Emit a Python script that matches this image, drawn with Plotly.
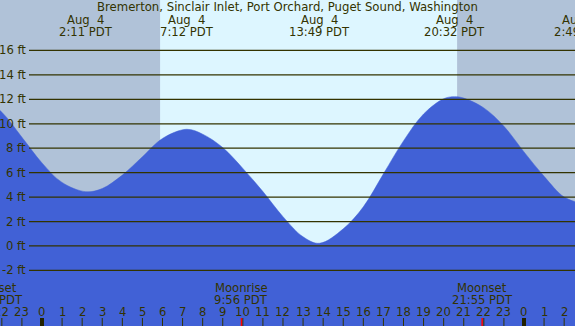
import plotly.graph_objects as go

# ---------------- data ----------------
TITLE = "Bremerton, Sinclair Inlet, Port Orchard, Puget Sound, Washington"

# hourly tide heights (ft), hours from midnight Aug 4 (PDT)
HOURS = [-3, -2, -1, 0, 1, 3, 4, 5, 6, 8, 9, 10, 11, 12, 13,
         15, 16, 17, 18, 19, 20, 21, 22, 23, 24, 25, 26]
HEIGHTS = [12.2, 10.95, 8.9, 6.8, 5.2, 4.7, 5.8, 7.3, 8.8, 9.15, 8.05, 6.35, 4.45, 2.4, 0.75,
           1.4, 3.2, 5.9, 8.6, 10.8, 12.05, 12.1, 11.3, 9.8, 7.7, 5.7, 4.0]

# high / low tides
EXT_TIMES = [2.183, 7.2, 13.817, 20.533, 26.817]
EXT_HEIGHTS = [4.44, 9.55, 0.22, 12.22, 3.5]
EXT_DATES = ["Aug  4", "Aug  4", "Aug  4", "Aug  4", "Aug  5"]
EXT_LABELS = ["2:11 PDT", "7:12 PDT", "13:49 PDT", "20:32 PDT", "2:49 PDT"]

# moon events
MOON_TIMES = [-2.48, 9.933, 21.917]
MOON_NAMES = ["Moonset", "Moonrise", "Moonset"]
MOON_LABELS = ["21:31 PDT", "9:56 PDT", "21:55 PDT"]

SUNRISE = 5.88
SUNSET = 20.67

Y_TICKS = [-2, 0, 2, 4, 6, 8, 10, 12, 14, 16]
HOUR_TICKS = list(range(-2, 27))

# ---------------- layout constants ----------------
W, H = 575, 326
X0, X1 = -2.091, 26.54
Y0, Y1 = -6.55, 20.13

TXT = "#333300"
FILL = "#4161D6"
NIGHT = "#B0C2D8"
DAY = "#DDF6FF"
FONT = "DejaVu Sans"
FS = 11.6


def xp(t):
    return (t - X0) / (X1 - X0)


def yp(px):
    return 1 - px / H


pts = sorted(zip(HOURS + EXT_TIMES, HEIGHTS + EXT_HEIGHTS))
cx = [p[0] for p in pts]
cy = [p[1] for p in pts]

fig = go.Figure()
fig.add_trace(go.Scatter(x=[X0 - 1, X1 + 1], y=[Y0 - 1, Y0 - 1], mode="lines",
                         line=dict(width=0, color=FILL), showlegend=False,
                         hoverinfo="skip"))
fig.add_trace(go.Scatter(x=cx, y=cy, mode="lines", fill="tonexty",
                         fillcolor=FILL,
                         line=dict(width=0.5, color=FILL, shape="spline", smoothing=1.0),
                         showlegend=False, hoverinfo="skip"))

shapes = []
# night shading
shapes.append(dict(type="rect", xref="x", yref="paper", x0=X0 - 1, x1=SUNRISE,
                   y0=0, y1=1, fillcolor=NIGHT, line=dict(width=0), layer="below"))
shapes.append(dict(type="rect", xref="x", yref="paper", x0=SUNSET, x1=X1 + 1,
                   y0=0, y1=1, fillcolor=NIGHT, line=dict(width=0), layer="below"))
# grid lines
for v in Y_TICKS:
    shapes.append(dict(type="line", xref="paper", yref="y", x0=29 / W, x1=1,
                       y0=v, y1=v, line=dict(color=TXT, width=1.3), layer="above"))
# hour ticks
for hr in HOUR_TICKS:
    mid = hr % 24 == 0
    shapes.append(dict(type="line", xref="x", yref="paper", x0=hr, x1=hr,
                       y0=0, y1=yp(318), layer="above",
                       line=dict(color="#222200" if mid else TXT, width=4 if mid else 1)))
for t in MOON_TIMES:
    shapes.append(dict(type="line", xref="x", yref="paper", x0=t, x1=t,
                       y0=0, y1=yp(318), layer="above",
                       line=dict(color="red", width=1.5)))

ann = []
fnt = dict(family=FONT, size=FS, color=TXT)
ann.append(dict(text=TITLE, xref="paper", yref="paper", x=0.5, y=yp(7),
                showarrow=False, font=dict(family=FONT, size=11.7, color=TXT),
                xanchor="center", yanchor="middle"))
for t, d, lab in zip(EXT_TIMES, EXT_DATES, EXT_LABELS):
    ann.append(dict(text=d.replace(" ", "\u00a0"), xref="paper", yref="paper",
                    x=xp(t), y=yp(20), showarrow=False, font=fnt,
                    xanchor="center", yanchor="middle"))
    ann.append(dict(text=lab, xref="paper", yref="paper", x=xp(t), y=yp(32),
                    showarrow=False, font=fnt, xanchor="center", yanchor="middle"))
for t, nm, lab in zip(MOON_TIMES, MOON_NAMES, MOON_LABELS):
    ann.append(dict(text=nm, xref="paper", yref="paper", x=xp(t), y=yp(287.5),
                    showarrow=False, font=fnt, xanchor="center", yanchor="middle"))
    ann.append(dict(text=lab, xref="paper", yref="paper", x=xp(t), y=yp(299.5),
                    showarrow=False, font=fnt, xanchor="center", yanchor="middle"))
for hr in HOUR_TICKS:
    ann.append(dict(text=str(hr % 24), xref="paper", yref="paper", x=xp(hr),
                    y=yp(311.5), showarrow=False, font=fnt,
                    xanchor="center", yanchor="middle"))
for v in Y_TICKS:
    ann.append(dict(text=f"{v} ft", xref="paper", yref="y", x=28 / W, y=v,
                    showarrow=False, font=fnt, xanchor="right", yanchor="middle"))

fig.update_layout(
    width=W, height=H, margin=dict(l=0, r=0, t=0, b=0),
    paper_bgcolor=DAY, plot_bgcolor=DAY,
    xaxis=dict(range=[X0, X1], visible=False, fixedrange=True),
    yaxis=dict(range=[Y0, Y1], visible=False, fixedrange=True),
    shapes=shapes, annotations=ann, showlegend=False,
)
fig.write_html("out.html", config={"displayModeBar": False},
               post_script="document.body.style.margin='0';document.body.style.overflow='hidden';")
